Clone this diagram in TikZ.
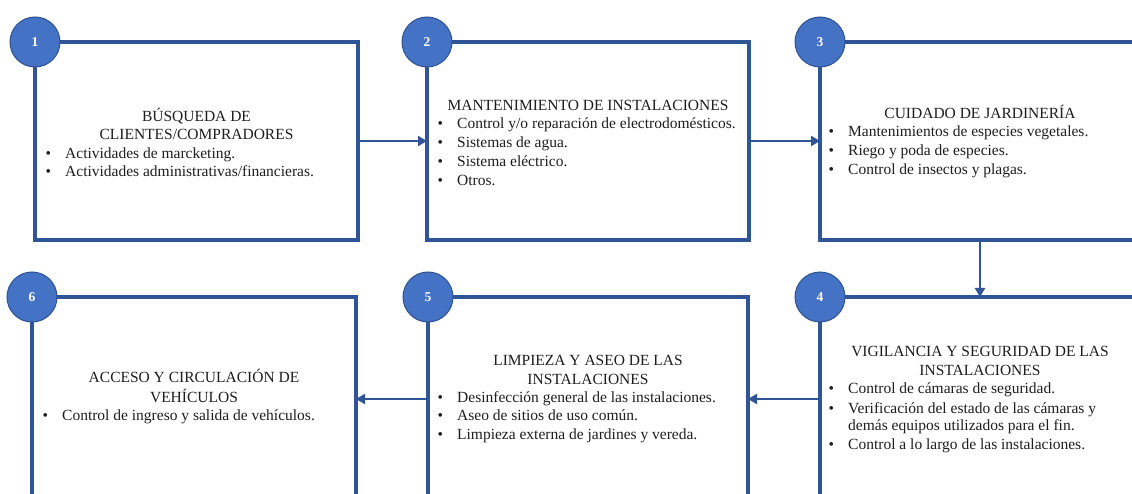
\documentclass[tikz,border=0pt]{standalone}
\usepackage{fontspec}
\setmainfont{Liberation Serif}
\usetikzlibrary{arrows.meta}
\definecolor{lineblue}{HTML}{2F5597}
\definecolor{circfill}{HTML}{4472C4}
\definecolor{circline}{HTML}{2F528F}
\definecolor{txt}{HTML}{1E1E1E}
\newcommand{\bt}[1]{\llap{\makebox[19.5pt][l]{•}}#1}
\begin{document}
\begin{tikzpicture}[x=1pt,y=-1pt,
  stepbox/.style={draw=lineblue,line width=3.2pt,outer sep=0pt,inner sep=0pt,anchor=north west},
  numcirc/.style={circle,fill=circfill,draw=circline,line width=1pt,minimum size=50pt,inner sep=0pt,text=white,font=\fontsize{13.5}{15}\selectfont\bfseries},
  ttl/.style={anchor=base,inner sep=0pt,text=txt,font=\fontsize{15.5}{19}\selectfont},
  itm/.style={anchor=base west,inner sep=0pt,text=txt,font=\fontsize{15.5}{19}\selectfont},
  flow/.style={draw=lineblue,line width=2.8pt,-{Triangle[width=10pt,length=9pt]}}]
\useasboundingbox (0,0) rectangle (1132,494);
\clip (0,0) rectangle (1132,494);
\fill[white] (0,0) rectangle (1132,494);
% boxes
\node[stepbox,minimum width=323pt,minimum height=198pt] (b1) at (35,42) {};
\node[stepbox,minimum width=322pt,minimum height=198pt] (b2) at (427,42) {};
\node[stepbox,minimum width=320pt,minimum height=198pt] (b3) at (820,42) {};
\node[stepbox,minimum width=320pt,minimum height=204pt] (b4) at (820,297) {};
\node[stepbox,minimum width=320pt,minimum height=204pt] (b5) at (428,297) {};
\node[stepbox,minimum width=324pt,minimum height=204pt] (b6) at (32,297) {};
% connectors
\draw[flow] (b1.east) -- (b2.west);
\draw[flow] (b2.east) -- (b3.west);
\draw[flow] (b3.south) -- (b4.north);
\draw[flow] (b4.west) -- (b5.east);
\draw[flow] (b5.west) -- (b6.east);
% number circles
\node[numcirc] (c1) at (b1.north west) {1};
\node[numcirc] (c2) at (b2.north west) {2};
\node[numcirc] (c3) at (b3.north west) {3};
\node[numcirc] (c4) at (b4.north west) {4};
\node[numcirc] (c5) at (b5.north west) {5};
\node[numcirc] (c6) at (b6.north west) {6};
% box 1
\node[ttl] (t1a) at (196.5,121.5) {BÚSQUEDA DE};
\node[ttl] (t1b) at (196.5,139.5) {CLIENTES/COMPRADORES};
\node[itm] (i1a) at (65,158.5) {\bt{Actividades de marcketing.}};
\node[itm] (i1b) at (65,177) {\bt{Actividades administrativas/financieras.}};
% box 2
\node[ttl] (t2a) at (588,110.5) {MANTENIMIENTO DE INSTALACIONES};
\node[itm] (i2a) at (457,128.5) {\bt{Control y/o reparación de electrodomésticos.}};
\node[itm] (i2b) at (457,147.5) {\bt{Sistemas de agua.}};
\node[itm] (i2c) at (457,166.5) {\bt{Sistema eléctrico.}};
\node[itm] (i2d) at (457,185.5) {\bt{Otros.}};
% box 3
\node[ttl] (t3a) at (980,118.5) {CUIDADO DE JARDINERÍA};
\node[itm] (i3a) at (848,136.5) {\bt{Mantenimientos de especies vegetales.}};
\node[itm] (i3b) at (848,155.5) {\bt{Riego y poda de especies.}};
\node[itm] (i3c) at (848,174.5) {\bt{Control de insectos y plagas.}};
% box 4
\node[ttl] (t4a) at (980,356.5) {VIGILANCIA Y SEGURIDAD DE LAS};
\node[ttl] (t4b) at (980,375.5) {INSTALACIONES};
\node[itm] (i4a) at (848,393) {\bt{Control de cámaras de seguridad.}};
\node[itm] (i4b) at (848,413.5) {\bt{Verificación del estado de las cámaras y}};
\node[itm] (i4c) at (848,430.5) {demás equipos utilizados para el fin.};
\node[itm] (i4d) at (848,449.5) {\bt{Control a lo largo de las instalaciones.}};
% box 5
\node[ttl] (t5a) at (588,365.5) {LIMPIEZA Y ASEO DE LAS};
\node[ttl] (t5b) at (588,384.5) {INSTALACIONES};
\node[itm] (i5a) at (457,402) {\bt{Desinfección general de las instalaciones.}};
\node[itm] (i5b) at (457,420.5) {\bt{Aseo de sitios de uso común.}};
\node[itm] (i5c) at (457,439.5) {\bt{Limpieza externa de jardines y vereda.}};
% box 6
\node[ttl] (t6a) at (194,382.5) {ACCESO Y CIRCULACIÓN DE};
\node[ttl] (t6b) at (194,402) {VEHÍCULOS};
\node[itm] (i6a) at (62,420.5) {\bt{Control de ingreso y salida de vehículos.}};
\end{tikzpicture}
\end{document}
